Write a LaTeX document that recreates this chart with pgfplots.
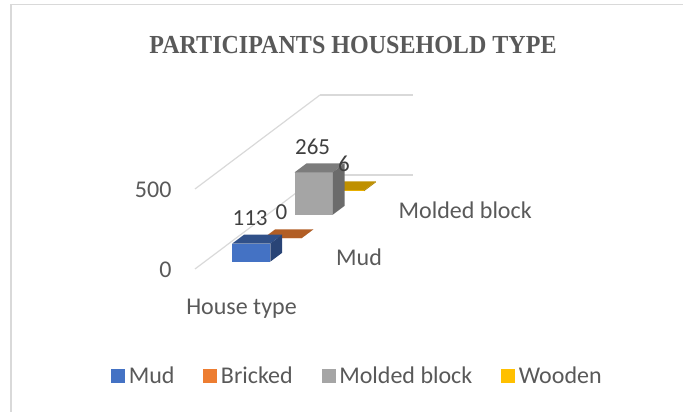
\documentclass[border=0pt]{standalone}
\usepackage{fontspec}
\usepackage{pgfplots}
\pgfplotsset{compat=1.18}
\setmainfont{Carlito}
\newfontfamily\titlefont{Liberation Serif Bold}
\definecolor{GridGray}{HTML}{D9D9D9}
\definecolor{TextGray}{HTML}{595959}
\definecolor{LabelGray}{HTML}{404040}
\definecolor{MudC}{HTML}{4472C4}
\definecolor{BrickC}{HTML}{ED7D31}
\definecolor{BlockC}{HTML}{A5A5A5}
\definecolor{WoodC}{HTML}{FFC000}
% y0, y1, height, front, top, side
\newcommand{\housebar}[6]{%
  \addplot3[forget plot, draw=none, fill=#4] coordinates {(0.295,#1,0) (0.705,#1,0) (0.705,#1,#3) (0.295,#1,#3)} -- cycle;
  \addplot3[forget plot, draw=none, fill=#5] coordinates {(0.295,#1,#3) (0.705,#1,#3) (0.705,#2,#3) (0.295,#2,#3)} -- cycle;
  \addplot3[forget plot, draw=none, fill=#6] coordinates {(0.705,#1,0) (0.705,#2,0) (0.705,#2,#3) (0.705,#1,#3)} -- cycle;
}
\begin{document}
\begin{tikzpicture}[x=1pt,y=1pt]
\path[use as bounding box] (0,0) rectangle (683,412);
\draw[GridGray, line width=1.6pt] (11,0) -- (11,407.5) -- (683,407.5);
\node[text=TextGray, xscale=0.925, font=\titlefont\fontsize{26}{30}\selectfont] at (353,367) {PARTICIPANTS HOUSEHOLD TYPE};
\begin{axis}[
  at={(195pt,143pt)}, anchor=origin,
  x={(93pt,0pt)}, y={(31.25pt,23.5pt)}, z={(0pt,0.16pt)},
  xmin=0, xmax=1, ymin=0, ymax=4, zmin=0, zmax=500,
  clip=false,
  axis line style={draw=none},
  major tick length=0pt,
  xtick={0.5}, xticklabels={House type},
  ytick={0.5,2.5}, yticklabels={Mud,Molded block},
  ztick={0,500},
  zmajorgrids=true,
  grid style={GridGray, line width=1.2pt},
  tick label style={text=TextGray, font=\fontsize{24}{26}\selectfont},
  x tick label style={anchor=center, yshift=-40pt},
  y tick label style={anchor=west, xshift=29pt},
  z tick label style={anchor=east, xshift=-20pt, yshift=-1pt},
  /pgf/number format/assume math mode=true,
  legend style={at={(axis cs:1.747,0,-668)}, anchor=center, draw=none, fill=none,
    legend columns=-1, font=\fontsize{24}{26}\selectfont, text=TextGray,
    /tikz/every odd column/.append style={column sep=1.5pt},
    /tikz/every even column/.append style={column sep=27pt}},
  legend image code/.code={\fill[#1, draw=none] (0pt,-7pt) rectangle (14pt,7pt);},
]
\housebar{3.31}{3.69}{6}{WoodC}{WoodC!75!black}{WoodC!70!black}
\housebar{2.31}{2.69}{265}{BlockC}{BlockC!75!black}{BlockC!65!black}
\housebar{1.31}{1.69}{0}{BrickC}{BrickC!75!black}{BrickC!65!black}
\housebar{0.31}{0.69}{113}{MudC}{MudC!70!black}{MudC!60!black}
\addplot3[forget plot, draw=none, mark=none, nodes near coords, point meta=z,
  every node near coord/.style={anchor=center, xshift=-7pt, yshift=21.5pt,
    text=LabelGray, font=\fontsize{23}{26}\selectfont}]
  coordinates {(0.5,0.5,113) (0.5,1.5,0) (0.5,2.5,265) (0.5,3.5,6)};
\addlegendimage{fill=MudC}\addlegendentry{Mud}
\addlegendimage{fill=BrickC}\addlegendentry{Bricked}
\addlegendimage{fill=BlockC}\addlegendentry{Molded block}
\addlegendimage{fill=WoodC}\addlegendentry{Wooden}
\end{axis}
\end{tikzpicture}
\end{document}
